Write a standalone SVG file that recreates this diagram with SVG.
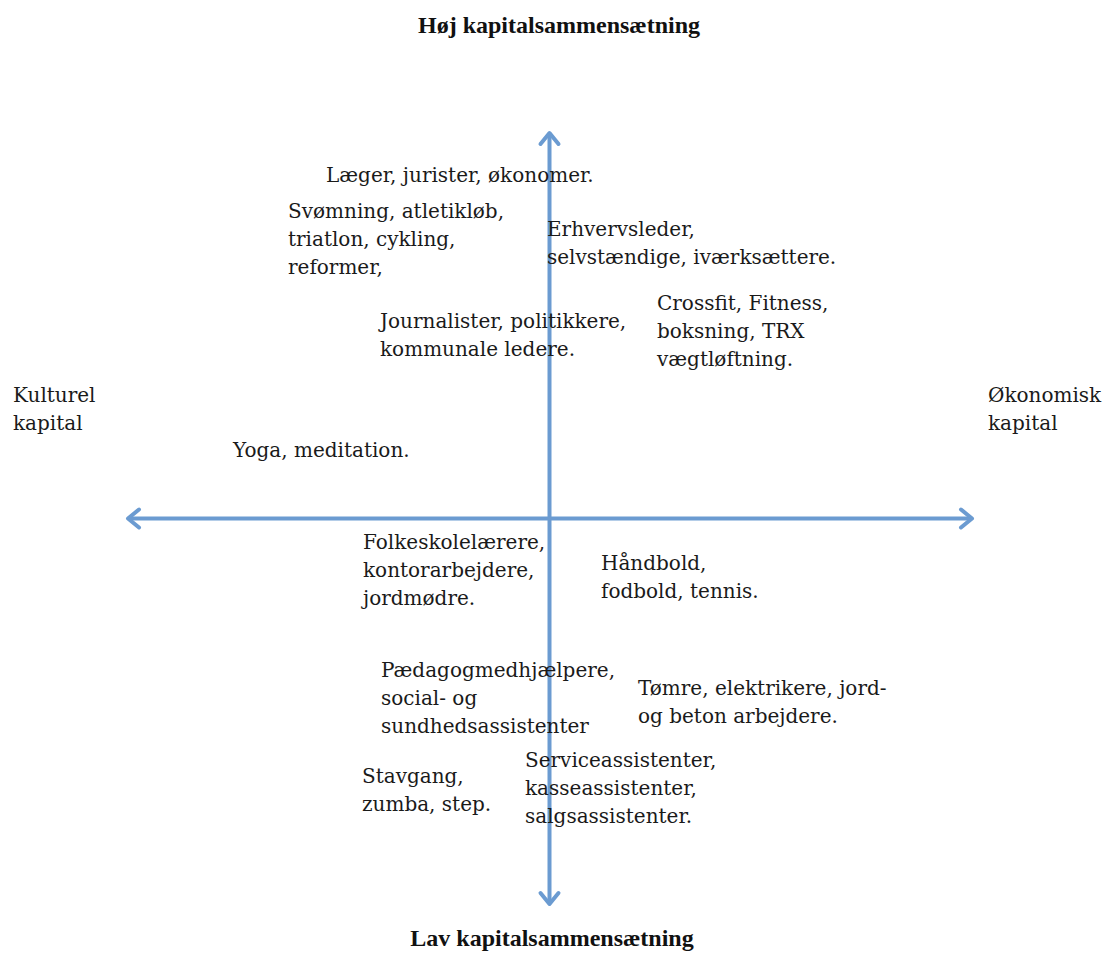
<svg xmlns="http://www.w3.org/2000/svg" width="1108" height="958" viewBox="0 0 1108 958">
<style>
.t{font-family:"DejaVu Serif","Liberation Serif",serif;font-size:20px;fill:#1a1a1a}
.h{font-family:"Liberation Serif","Times New Roman",serif;font-size:24px;font-weight:bold;fill:#111;text-anchor:middle}
.ax{stroke:#6b9bd1;stroke-width:4;fill:none}
</style>
<defs>
<marker id="ah" markerUnits="userSpaceOnUse" markerWidth="30" markerHeight="30" viewBox="-15 -15 30 30" refX="0" refY="0" orient="auto-start-reverse">
<path d="M -11 -9 L 0 0 L -11 9" fill="none" stroke="#6b9bd1" stroke-width="4" stroke-linecap="round" stroke-linejoin="round"/>
</marker>
</defs>
<rect width="1108" height="958" fill="#fff"/>
<g id="connectors">
<line class="ax" x1="549.5" y1="133" x2="549.5" y2="904" marker-start="url(#ah)" marker-end="url(#ah)"/>
<line class="ax" x1="128" y1="518.5" x2="972" y2="518.5" marker-start="url(#ah)" marker-end="url(#ah)"/>
</g>
<g id="title-top"><text class="h" x="559" y="33">Høj kapitalsammensætning</text></g>
<g id="title-bottom"><text class="h" x="552" y="946">Lav kapitalsammensætning</text></g>
<g id="kulturel"><text class="t" x="13" y="402">Kulturel</text><text class="t" x="13" y="430">kapital</text></g>
<g id="okonomisk"><text class="t" x="988" y="402">Økonomisk</text><text class="t" x="988" y="430">kapital</text></g>
<g id="laeger"><text class="t" x="326" y="182">Læger, jurister, økonomer.</text></g>
<g id="svomning"><text class="t" x="288" y="218">Svømning, atletikløb,</text><text class="t" x="288" y="246">triatlon, cykling,</text><text class="t" x="288" y="274">reformer,</text></g>
<g id="erhverv"><text class="t" x="547" y="236">Erhvervsleder,</text><text class="t" x="547" y="264">selvstændige, iværksættere.</text></g>
<g id="crossfit"><text class="t" x="657" y="310">Crossfit, Fitness,</text><text class="t" x="657" y="338">boksning, TRX</text><text class="t" x="657" y="366">vægtløftning.</text></g>
<g id="journalister"><text class="t" x="380" y="328">Journalister, politikkere,</text><text class="t" x="380" y="356">kommunale ledere.</text></g>
<g id="yoga"><text class="t" x="233" y="457">Yoga, meditation.</text></g>
<g id="folkeskole"><text class="t" x="363" y="549">Folkeskolelærere,</text><text class="t" x="363" y="577">kontorarbejdere,</text><text class="t" x="363" y="605">jordmødre.</text></g>
<g id="handbold"><text class="t" x="601" y="570">Håndbold,</text><text class="t" x="601" y="598">fodbold, tennis.</text></g>
<g id="paedagog"><text class="t" x="381" y="677">Pædagogmedhjælpere,</text><text class="t" x="381" y="705">social- og</text><text class="t" x="381" y="733">sundhedsassistenter</text></g>
<g id="tomre"><text class="t" x="638" y="695">Tømre, elektrikere, jord-</text><text class="t" x="638" y="723">og beton arbejdere.</text></g>
<g id="stavgang"><text class="t" x="362" y="783">Stavgang,</text><text class="t" x="362" y="811">zumba, step.</text></g>
<g id="service"><text class="t" x="525" y="767">Serviceassistenter,</text><text class="t" x="525" y="795">kasseassistenter,</text><text class="t" x="525" y="823">salgsassistenter.</text></g>
</svg>
